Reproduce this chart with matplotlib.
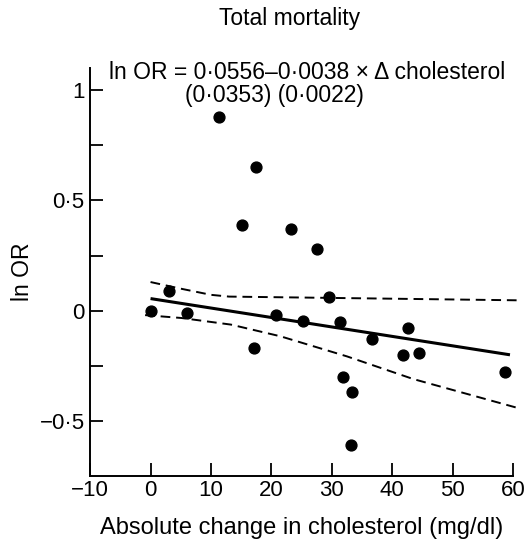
"""Total mortality: ln OR vs absolute change in cholesterol."""

import matplotlib

matplotlib.use("Agg")
import matplotlib.pyplot as plt
from matplotlib.ticker import FixedLocator, FuncFormatter

plt.rcParams["font.family"] = ["Liberation Sans", "DejaVu Sans"]

# ---------------------------------------------------------------------------
# Data
# ---------------------------------------------------------------------------

trial_dchol = [0.0, 3.0, 6.1, 11.4, 15.1, 17.1, 17.4, 20.8, 23.3, 25.2, 27.5,
               29.6, 31.4, 31.9, 33.2, 33.4, 36.7, 41.8, 42.6, 44.4, 58.7]
trial_lnor = [0.0, 0.09, -0.01, 0.88, 0.39, -0.17, 0.65, -0.02, 0.37, -0.045, 0.28,
              0.06, -0.05, -0.30, -0.61, -0.37, -0.13, -0.20, -0.08, -0.19, -0.28]

fit_x = [0.0, 59.5]
fit_y = [0.055, -0.20]

upper_x = [0.0, 5.0, 10.0, 13.0, 30.0, 61.3]
upper_y = [0.13, 0.10, 0.072, 0.064, 0.058, 0.047]

lower_x = [-0.9, 5.1, 13.3, 21.5, 32.5, 43.5, 61.3]
lower_y = [-0.02, -0.033, -0.063, -0.116, -0.207, -0.31, -0.445]

x_ticks = [-10, 0, 10, 20, 30, 40, 50, 60]
y_major = [-0.5, 0.0, 0.5, 1.0]
y_minor = [-0.25, 0.25, 0.75]

TITLE = "Total mortality"
EQ_LINE1 = "ln OR = 0\u00b70556\u20130\u00b70038 \u00d7 \u0394 cholesterol"
EQ_LINE2 = "(0\u00b70353) (0\u00b70022)"

FS = 16.5


def fmt_num(v, _pos=None):
    if v == int(v):
        s = f"{abs(int(v))}"
    else:
        s = f"{abs(v):g}".replace(".", "\u00b7")
    if v < 0:
        s = "\u2212" + s
    return s


def main() -> None:
    fig = plt.figure(figsize=(5.24, 5.41), dpi=100)
    ax = fig.add_axes([0.172, 0.120, 0.807, 0.754])

    ax.plot(fit_x, fit_y, color="black", lw=2.2, solid_capstyle="butt")
    ax.plot(upper_x, upper_y, color="black", lw=1.4, dashes=(5, 3), clip_on=False)
    ax.plot(lower_x, lower_y, color="black", lw=1.4, dashes=(5, 3), clip_on=False)
    ax.plot(trial_dchol, trial_lnor, "o", color="black", ms=7.8, zorder=3)

    ax.set_xlim(-10, 60)
    ax.set_ylim(-0.75, 1.1)

    for side in ("top", "right"):
        ax.spines[side].set_visible(False)
    for side in ("left", "bottom"):
        ax.spines[side].set_linewidth(1.4)

    ax.set_xticks(x_ticks)
    ax.xaxis.set_major_formatter(FuncFormatter(fmt_num))
    ax.yaxis.set_major_locator(FixedLocator(y_major))
    ax.yaxis.set_minor_locator(FixedLocator(y_minor))
    ax.yaxis.set_major_formatter(FuncFormatter(fmt_num))
    ax.tick_params(which="both", direction="in", length=9.5, width=1.3,
                   labelsize=FS - 0.5)
    ax.tick_params(axis="x", pad=3)
    ax.tick_params(axis="y", pad=4)

    ax.set_xlabel("Absolute change in cholesterol (mg/dl)", fontsize=FS + 0.5,
                  labelpad=11)
    ax.set_ylabel("ln OR", fontsize=FS, labelpad=4)

    fig.text(0.553, 0.965, TITLE, ha="center", va="center", fontsize=FS)
    fig.text(0.587, 0.866, EQ_LINE1, ha="center", va="center", fontsize=FS)
    fig.text(0.523, 0.824, EQ_LINE2, ha="center", va="center", fontsize=FS)

    fig.savefig("out.png", dpi=100)
    plt.close(fig)


if __name__ == "__main__":
    main()
